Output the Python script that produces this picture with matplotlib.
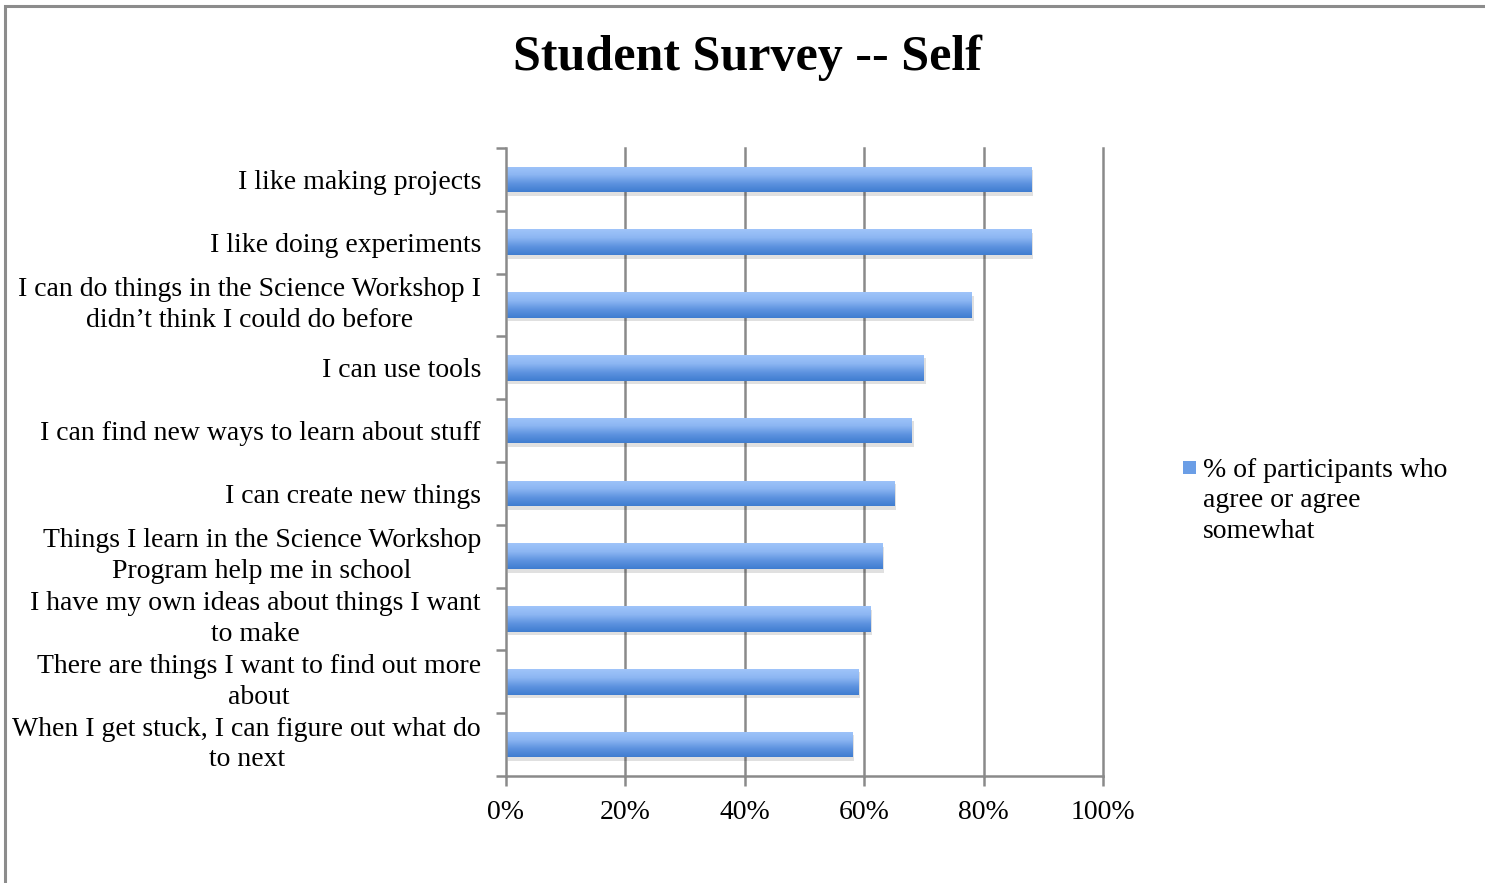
import numpy as np
import matplotlib
matplotlib.use("Agg")
import matplotlib.pyplot as plt
from matplotlib.colors import LinearSegmentedColormap
from matplotlib.patches import Rectangle
import matplotlib.patheffects as pe

# Survey statements (top to bottom) and share agreeing
categories = [
    "I like making projects",
    "I like doing experiments",
    "I can do things in the Science Workshop I\ndidn\u2019t think I could do before",
    "I can use tools",
    "I can find new ways to learn about stuff",
    "I can create new things",
    "Things I learn in the Science Workshop\nProgram help me in school",
    "I have my own ideas about things I want\nto make",
    "There are things I want to find out more\nabout",
    "When I get stuck, I can figure out what do\nto next",
]
values = [0.88, 0.88, 0.78, 0.70, 0.68, 0.65, 0.63, 0.61, 0.59, 0.58]
x_ticks = [0.0, 0.2, 0.4, 0.6, 0.8, 1.0]
x_tick_labels = ["0%", "20%", "40%", "60%", "80%", "100%"]
series_name = "% of participants who\nagree or agree\nsomewhat"

plt.rcParams["font.family"] = ["Liberation Serif", "DejaVu Serif"]

W, H = 1485, 883
fig = plt.figure(figsize=(W / 100, H / 100), dpi=100)
fig.patch.set_facecolor("white")

# outer chart frame
fig.add_artist(Rectangle((5 / W, -0.01), 1.2, 1 - 6 / H + 0.01, transform=fig.transFigure,
                         fill=False, edgecolor="#8c8c8c", linewidth=2.2))

ax = fig.add_axes([506 / W, 1 - 776 / H, 597 / W, 628 / H])
n = len(categories)
ypos = np.arange(n)
label_size = 20

grid_color = "#8a8a8a"
for t in x_ticks[1:]:
    ax.axvline(t, color=grid_color, linewidth=1.8, zorder=1, clip_on=False)

cmap = LinearSegmentedColormap.from_list("bar", ["#9fc4fa", "#8cb6f2", "#5e93e0", "#3f7dd0"])
grad = np.linspace(0, 1, 64).reshape(-1, 1)
bar_h = 0.41
bars = ax.barh(ypos, values, height=bar_h, color="#6b9ee6", linewidth=0, zorder=2)
for b in bars:
    b.set_path_effects([pe.SimplePatchShadow(offset=(1.5, -2.5), shadow_rgbFace="#000000", alpha=0.12),
                        pe.Normal()])
    x0, y0 = b.get_x(), b.get_y()
    w, h = b.get_width(), b.get_height()
    im = ax.imshow(grad, cmap=cmap, aspect="auto", extent=(x0, x0 + w, y0 + h, y0),
                   origin="upper", zorder=3, interpolation="bilinear")
    im.set_clip_path(b)

ax.set_xlim(0, 1)
ax.set_ylim(n - 0.5, -0.5)

for side in ("top", "right"):
    ax.spines[side].set_visible(False)
for side in ("left", "bottom"):
    ax.spines[side].set_color(grid_color)
    ax.spines[side].set_linewidth(1.8)
    ax.spines[side].set_zorder(4)

ax.set_xticks(x_ticks)
ax.set_xticklabels(x_tick_labels, fontsize=label_size)
ax.tick_params(axis="x", length=7, width=1.8, color=grid_color, pad=10)

ax.set_yticks(np.arange(n + 1) - 0.5, minor=False)
ax.set_yticklabels([])
ax.tick_params(axis="y", length=7, width=1.8, color=grid_color)
ax.set_yticks(ypos, minor=True)
ax.set_yticklabels(categories, minor=True, fontsize=label_size, linespacing=1.3)
ax.tick_params(axis="y", which="minor", length=0, pad=18)
for lbl in ax.get_yticklabels(minor=True):
    lbl.set_multialignment("center")
    if "\n" in lbl.get_text():
        lbl.set_verticalalignment("center")

fig.text(747 / W, 1 - 58 / H, "Student Survey -- Self", ha="center", va="center",
         fontsize=36, fontweight="bold")

# legend
fig.add_artist(Rectangle((1183 / W, 1 - 474 / H), 13 / W, 13 / H, transform=fig.transFigure,
                         facecolor="#6b9ee6", edgecolor="none"))
fig.text(1203 / W, 1 - 538 / H, series_name, ha="left", va="baseline", fontsize=label_size,
         linespacing=1.3)

fig.savefig("out.png", dpi=100, facecolor="white")
